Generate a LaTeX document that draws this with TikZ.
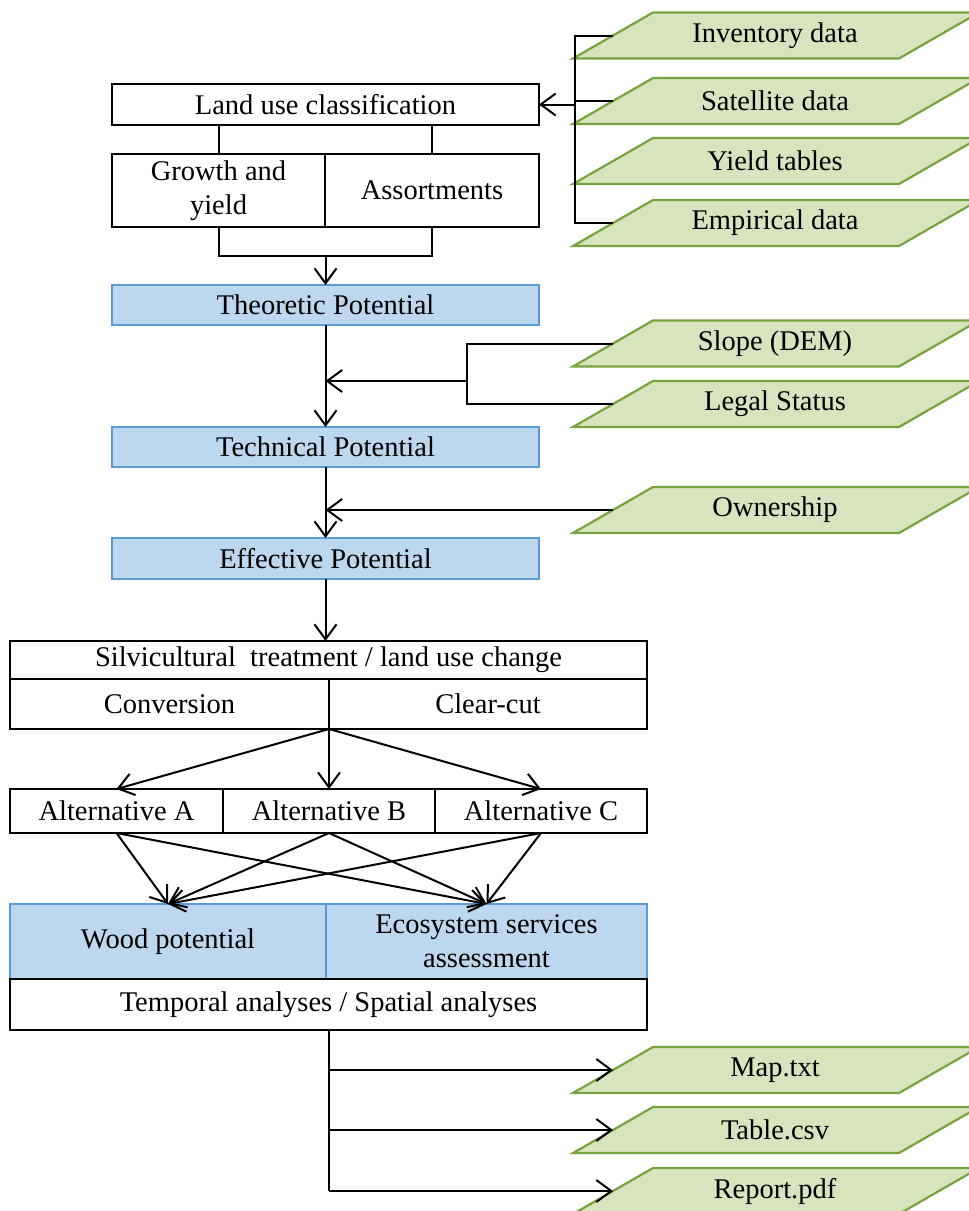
\documentclass[tikz,border=0pt]{standalone}
\usepackage{fontspec}
\setmainfont{Liberation Serif}
\usetikzlibrary{arrows.meta}
\definecolor{gfill}{HTML}{D7E4BD}
\definecolor{gline}{HTML}{77A33F}
\definecolor{bfill}{HTML}{BDD7EE}
\definecolor{bline}{HTML}{5B9BD5}
\tikzset{
  txt/.style={font=\fontsize{28.5}{34}\selectfont, align=center, inner sep=0pt, outer sep=0pt},
  wbox/.style={txt, draw=black, line width=2pt, fill=white, anchor=north west},
  bbox/.style={txt, draw=bline, line width=2pt, fill=bfill, anchor=north west},
  datab/.style={draw=gline, fill=gfill, line width=2.2pt, line join=miter},
  con/.style={line width=2pt, black},
  arr/.style={con, -{Straight Barb[length=15pt,width=22pt,line width=2pt]}},
}
\newcommand{\datashape}[3]{%
  \draw[datab] (776-203,#2+23) -- (776+123,#2+23) -- (776+203,#2-23) -- (776-123,#2-23) -- cycle;
  \node[txt] (#1) at (775,#2) {#3};
  \coordinate (#1-l) at (613,#2);
}
\begin{document}
\begin{tikzpicture}[x=1pt,y=-1pt]
\useasboundingbox (0,0) rectangle (969,1211);
% data inputs
\datashape{inv}{35.5}{Inventory data}
\datashape{sat}{101}{Satellite data}
\datashape{yld}{161}{Yield tables}
\datashape{emp}{223}{Empirical data}
\datashape{slope}{343.5}{Slope (DEM)}
\datashape{legal}{404}{Legal Status}
\datashape{own}{510}{Ownership}
\datashape{map}{1070}{Map.txt}
\datashape{tab}{1130}{Table.csv}
\datashape{rep}{1191}{Report.pdf}
% upper column
\node[wbox, minimum width=427, minimum height=41] (luc) at (112,84) {Land use classification};
\node[wbox, minimum width=213, minimum height=73] (gro) at (112,154) {Growth and\\yield};
\node[wbox, minimum width=214, minimum height=73] (ass) at (325,154) {Assortments};
\node[bbox, minimum width=427, minimum height=40] (theo) at (112,285) {Theoretic Potential};
\node[bbox, minimum width=427, minimum height=40] (tech) at (112,427) {Technical Potential};
\node[bbox, minimum width=427, minimum height=41] (eff) at (112,538) {Effective Potential};
% lower column
\node[wbox, minimum width=637, minimum height=38] (silv) at (10,641) {Silvicultural\ \ treatment / land use change};
\node[wbox, minimum width=319, minimum height=50] (conv) at (10,679) {Conversion};
\node[wbox, minimum width=318, minimum height=50] (clr) at (329,679) {Clear-cut};
\node[wbox, minimum width=213, minimum height=44] (alta) at (10,789) {Alternative A};
\node[wbox, minimum width=212, minimum height=44] (altb) at (223,789) {Alternative B};
\node[wbox, minimum width=212, minimum height=44] (altc) at (435,789) {Alternative C};
\node[bbox, minimum width=316, minimum height=75] (wood) at (10,904) {Wood potential};
\node[bbox, minimum width=321, minimum height=75] (eco) at (326,904) {Ecosystem services\\assessment};
\node[wbox, minimum width=637, minimum height=51] (temp) at (10,979) {Temporal analyses / Spatial analyses};
% connectors upper
\draw[con] (luc.south -| gro) -- (gro.north);
\draw[con] (luc.south -| ass) -- (ass.north);
\coordinate (j1) at (325.5,256);
\draw[con] (gro.south) |- (j1) -| (ass.south);
\draw[arr] (j1) -- (theo.north);
% input bracket
\coordinate (brb) at (575,223);
\draw[con] (inv-l) -| (brb) -- (emp-l);
\draw[con] (sat-l) -- (sat-l -| brb);
\draw[arr] (luc.east -| brb) -- (luc.east);
% theoretic -> technical
\draw[arr] (theo.south) -- (tech.north);
\coordinate (sb) at (467,404);
\draw[con] (slope-l) -| (sb) -- (legal-l);
\coordinate (m1) at (467,381);
\draw[arr] (m1) -- (m1 -| theo.south);
% technical -> effective
\draw[arr] (tech.south) -- (eff.north);
\draw[arr] (own-l) -- (own-l -| tech.south);
% effective -> silvicultural
\draw[arr] (eff.south) -- (silv.north -| eff.south);
% to alternatives
\draw[arr] (conv.south east) -- (alta.north);
\draw[arr] (conv.south east) -- (altb.north);
\draw[arr] (conv.south east) -- (altc.north);
% alternatives to outputs
\foreach \a in {alta,altb,altc}{
  \draw[arr] (\a.south) -- (wood.north);
  \draw[arr] (\a.south) -- (eco.north);
}
% outputs
\coordinate (ob) at (329,1191);
\draw[con] (temp.south -| ob) -- (ob);
\draw[arr] (ob) -- (rep-l);
\draw[arr] (map-l -| ob) -- (map-l);
\draw[arr] (tab-l -| ob) -- (tab-l);
\end{tikzpicture}
\end{document}
